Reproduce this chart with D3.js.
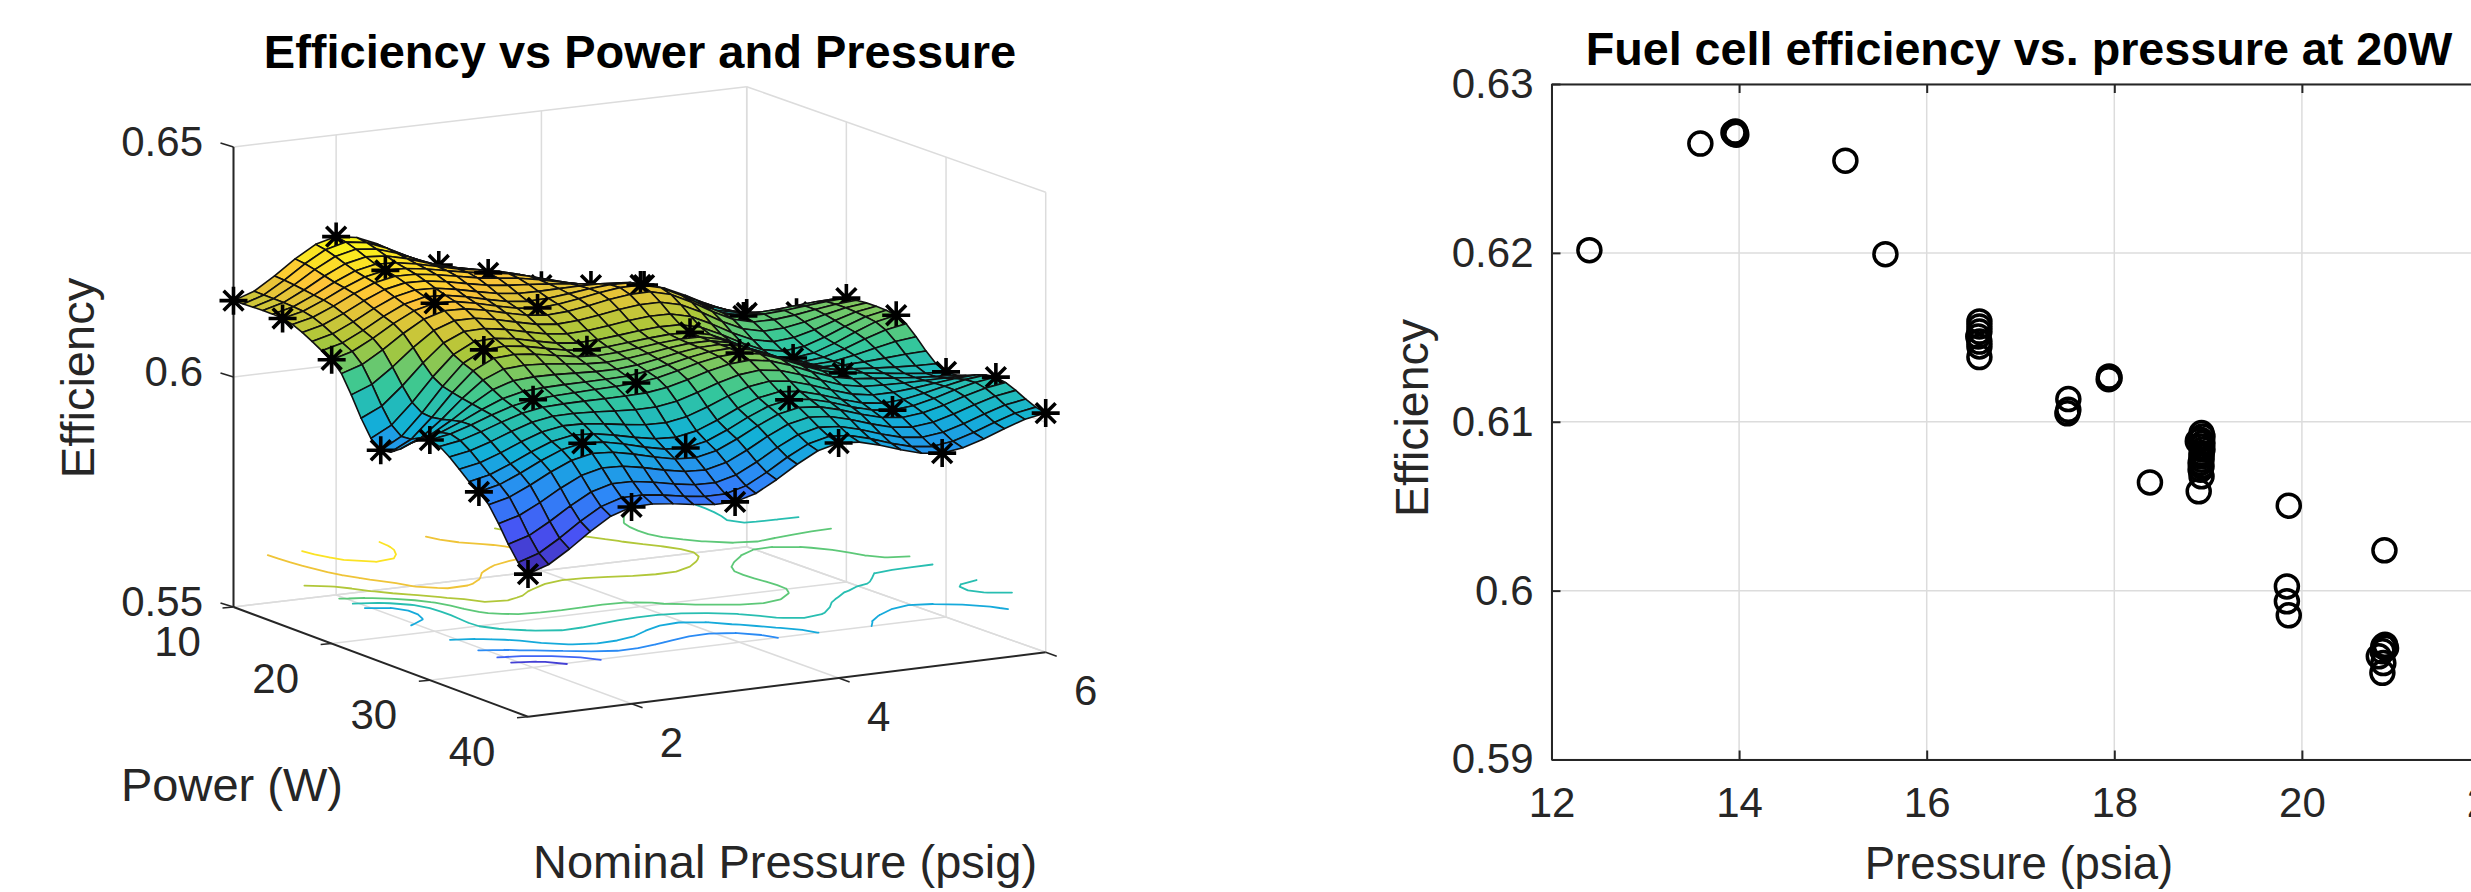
<!DOCTYPE html>
<html>
<head>
<meta charset="utf-8">
<script src="https://cdn.jsdelivr.net/npm/d3@7"></script>
<style>
  html, body { margin: 0; padding: 0; background: #fff; overflow: hidden; }
  text { font-family: "Liberation Sans", Arial, sans-serif; fill: #262626; }
</style>
</head>
<body>
<div id="chart"></div>
<script>
// Left chart: measured grid, rows are power, columns are pressure
const pressureValues = [1, 2, 3, 4, 5, 6];
const powerValues = [10, 15, 20, 25, 30, 35, 40];
const efficiencyGrid = [
    [0.6166, 0.6279, 0.6191, 0.6121, 0.6095, 0.6008],
    [0.6167, 0.6245, 0.6213, 0.6160, 0.6058, 0.6048],
    [0.6117, 0.6213, 0.6176, 0.6199, 0.6105, 0.6117],
    [0.5960, 0.6151, 0.6124, 0.6135, 0.6052, 0.6118],
    [0.6022, 0.6082, 0.6091, 0.6129, 0.6058, 0.6033],
    [0.5949, 0.6027, 0.5989, 0.6066, 0.6016, 0.6060],
    [0.5810, 0.5928, 0.5911, 0.6011, 0.5961, 0.6020]
];
const contourLevels = [0.585, 0.59, 0.595, 0.6, 0.605, 0.61, 0.615, 0.62, 0.625];
const pressureTicks = [2, 4, 6];
const powerTicks = [10, 20, 30, 40];
const efficiencyTicks3d = [0.55, 0.6, 0.65];

// Right chart: scatter at 20 W
const scatterPressure = [
    12.404, 13.587, 13.96, 13.95, 13.97, 13.94, 15.133, 15.56,
    16.562, 16.562, 16.562, 16.55, 16.562, 16.562, 16.562,
    17.51, 17.51, 17.50, 17.945, 17.95, 17.94, 18.38,
    18.93, 18.94, 18.92, 18.89, 18.94, 18.93, 18.94, 18.93, 18.93, 18.93, 18.92, 18.93, 18.92, 18.93, 18.90,
    19.86, 19.84, 19.84, 19.86,
    20.88, 20.886, 20.897, 20.868, 20.86, 20.82, 20.868, 20.858
];
const scatterEfficiency = [
    0.62016, 0.62647, 0.62718, 0.62705, 0.62700, 0.62712, 0.62546, 0.61992,
    0.61594, 0.61564, 0.61534, 0.61505, 0.61475, 0.61446, 0.61383,
    0.61134, 0.61071, 0.6105, 0.61268, 0.61259, 0.61252, 0.60641,
    0.60933, 0.60913, 0.60894, 0.60885, 0.60874, 0.60854, 0.60835, 0.60815, 0.60795, 0.60775, 0.60756, 0.60736, 0.60716, 0.60677, 0.60588,
    0.60503, 0.60025, 0.59937, 0.59854,
    0.60239, 0.5968, 0.5966, 0.5967, 0.59641, 0.59611, 0.59571, 0.59513
];
const scatterXTicks = [12, 14, 16, 18, 20, 22];
const scatterYTicks = [0.59, 0.6, 0.61, 0.62, 0.63];

// MATLAB parula stops
const parulaStops = ["#3E26A8", "#4852F4", "#2D87F7", "#12B1D6", "#37C897", "#ABC739", "#FEC338", "#F9FB15"];

const width = 2471;
const height = 892;
const axisColor = "#262626";

const svg = d3.select("#chart")
    .append("svg")
    .attr("width", width)
    .attr("height", height)
    .attr("viewBox", `0 0 ${width} ${height}`)
    .style("display", "block");

// ---------- left chart, 3D box ----------
const g3 = svg.append("g");

// floor corners on screen
const cornerA = [233.5, 607];    // p=1, w=10
const cornerD = [746.7, 546.7];  // p=6, w=10
const cornerB = [528, 716.7];    // p=1, w=40
const cornerC = [1045.7, 652.3]; // p=6, w=40

const pFrac = d3.scaleLinear().domain([1, 6]).range([0, 1]);
const wFrac = d3.scaleLinear().domain([10, 40]).range([0, 1]);
const zLift = d3.scaleLinear().domain([0.55, 0.65]).range([0, -460]);
const zFloor = 0.55;
const zContour = 0.5604; // contours sit a little above the floor in the original

function project(p, w, z) {
    const a = pFrac(p), b = wFrac(w);
    const x = (1 - a) * (1 - b) * cornerA[0] + a * (1 - b) * cornerD[0] + (1 - a) * b * cornerB[0] + a * b * cornerC[0];
    const y = (1 - a) * (1 - b) * cornerA[1] + a * (1 - b) * cornerD[1] + (1 - a) * b * cornerB[1] + a * b * cornerC[1];
    return [x, y + zLift(z)];
}

function seg(p0, p1, color, sw) {
    g3.append("line")
        .attr("x1", p0[0]).attr("y1", p0[1])
        .attr("x2", p1[0]).attr("y2", p1[1])
        .attr("stroke", color)
        .attr("stroke-width", sw);
}

const gridColor = "#dcdcdc";
const gridWidth = 1.5;

// walls and floor grid
pressureTicks.concat([1]).forEach(p => {
    seg(project(p, 10, zFloor), project(p, 10, 0.65), gridColor, gridWidth);
    if (p !== 1) seg(project(p, 10, zFloor), project(p, 40, zFloor), gridColor, gridWidth);
});
powerTicks.forEach(w => {
    seg(project(6, w, zFloor), project(6, w, 0.65), gridColor, gridWidth);
    if (w !== 40) seg(project(1, w, zFloor), project(6, w, zFloor), gridColor, gridWidth);
});
efficiencyTicks3d.forEach(z => {
    seg(project(1, 10, z), project(6, 10, z), gridColor, gridWidth);
    seg(project(6, 10, z), project(6, 40, z), gridColor, gridWidth);
});

// axes
seg(project(1, 10, zFloor), project(1, 10, 0.65), axisColor, 2);
seg(project(1, 10, zFloor), project(1, 40, zFloor), axisColor, 2);
seg(project(1, 40, zFloor), project(6, 40, zFloor), axisColor, 2);

// ticks and tick labels
efficiencyTicks3d.forEach(z => {
    const t = project(1, 10, z);
    seg(t, [t[0] - 13, t[1] - 4], axisColor, 1.5);
    g3.append("text")
        .attr("x", 203).attr("y", t[1] + 9)
        .attr("text-anchor", "end").attr("font-size", 42)
        .text(z);
});
powerTicks.forEach(w => {
    const t = project(1, w, zFloor);
    seg(t, [t[0] - 11, t[1] + 1], axisColor, 1.5);
    g3.append("text")
        .attr("x", t[0] - 56).attr("y", t[1] + 49)
        .attr("text-anchor", "middle").attr("font-size", 42)
        .text(w);
});
pressureTicks.forEach(p => {
    const t = project(p, 40, zFloor);
    seg(t, [t[0] + 11, t[1] + 4], axisColor, 1.5);
    g3.append("text")
        .attr("x", t[0] + 40).attr("y", t[1] + 53)
        .attr("text-anchor", "middle").attr("font-size", 42)
        .text(p);
});

// The surface in the original is a smoothed mesh over the measured grid: five
// cells per grid step. The values read off the picture are only efficiencyGrid,
// the rest is how the mesh gets drawn. Tangents are kept short so the mesh has
// the same slight kinks at the data points.
const subdiv = 5;
const tangentScale = 0.25;

function hermite(a, b, c, d, t) {
    const m0 = tangentScale * (c - a), m1 = tangentScale * (d - b);
    const t2 = t * t, t3 = t2 * t;
    return (2 * t3 - 3 * t2 + 1) * b + (t3 - 2 * t2 + t) * m0 + (-2 * t3 + 3 * t2) * c + (t3 - t2) * m1;
}

function surfaceAt(fi, fj) {
    const nI = pressureValues.length, nJ = powerValues.length;
    const i = Math.min(Math.floor(fi), nI - 2), j = Math.min(Math.floor(fj), nJ - 2);
    const ti = fi - i, tj = fj - j;
    const cl = (v, n) => Math.max(0, Math.min(n - 1, v));
    const rowVal = r => hermite(
        efficiencyGrid[r][cl(i - 1, nI)], efficiencyGrid[r][cl(i, nI)],
        efficiencyGrid[r][cl(i + 1, nI)], efficiencyGrid[r][cl(i + 2, nI)], ti);
    return hermite(rowVal(cl(j - 1, nJ)), rowVal(cl(j, nJ)), rowVal(cl(j + 1, nJ)), rowVal(cl(j + 2, nJ)), tj);
}

const finePressure = d3.range((pressureValues.length - 1) * subdiv + 1).map(k => 1 + k / subdiv);
const finePower = d3.range((powerValues.length - 1) * subdiv + 1).map(k => 10 + 5 * k / subdiv);
const fineZ = finePower.map((w, j) => finePressure.map((p, i) => surfaceAt(i / subdiv, j / subdiv)));

const zMin = d3.min(fineZ, r => d3.min(r));
const zMax = d3.max(fineZ, r => d3.max(r));
const parula = d3.scaleLinear()
    .domain(parulaStops.map((c, i) => zMin + (zMax - zMin) * i / (parulaStops.length - 1)))
    .range(parulaStops)
    .clamp(true);

// contour lines, marching squares on the fine mesh
function contourPath(level) {
    let d = "";
    const edgePoint = (i0, j0, i1, j1) => {
        const v0 = fineZ[j0][i0], v1 = fineZ[j1][i1];
        const t = (level - v0) / (v1 - v0);
        return project(
            finePressure[i0] + t * (finePressure[i1] - finePressure[i0]),
            finePower[j0] + t * (finePower[j1] - finePower[j0]),
            zContour);
    };
    for (let j = 0; j < finePower.length - 1; j++) {
        for (let i = 0; i < finePressure.length - 1; i++) {
            const corners = [[i, j], [i + 1, j], [i + 1, j + 1], [i, j + 1]];
            const pts = [];
            corners.forEach((c, k) => {
                const n = corners[(k + 1) % 4];
                const above0 = fineZ[c[1]][c[0]] >= level, above1 = fineZ[n[1]][n[0]] >= level;
                if (above0 !== above1) pts.push(edgePoint(c[0], c[1], n[0], n[1]));
            });
            for (let k = 0; k + 1 < pts.length; k += 2) {
                d += `M${pts[k][0]},${pts[k][1]}L${pts[k + 1][0]},${pts[k + 1][1]}`;
            }
        }
    }
    return d;
}

g3.append("g").selectAll("path")
    .data(contourLevels)
    .join("path")
    .attr("d", contourPath)
    .attr("fill", "none")
    .attr("stroke", d => parula(d))
    .attr("stroke-width", 1.8)
    .attr("stroke-linecap", "round");

// surface cells and markers, back to front by floor position
const items = [];
for (let j = 0; j < finePower.length - 1; j++) {
    for (let i = 0; i < finePressure.length - 1; i++) {
        const quad = [[i, j], [i + 1, j], [i + 1, j + 1], [i, j + 1]]
            .map(c => project(finePressure[c[0]], finePower[c[1]], fineZ[c[1]][c[0]]));
        const meanZ = d3.mean([fineZ[j][i], fineZ[j][i + 1], fineZ[j + 1][i + 1], fineZ[j + 1][i]]);
        items.push({
            key: project(finePressure[i] + 0.1, finePower[j] + 0.5, zFloor)[1],
            d: "M" + quad.map(q => q.join(",")).join("L") + "Z",
            fill: parula(meanZ),
            stroke: "#111",
            sw: 1.6
        });
    }
}
const starR = 14;
powerValues.forEach((w, j) => {
    pressureValues.forEach((p, i) => {
        const c = project(p, w, efficiencyGrid[j][i]);
        const spikes = d3.range(4).map(k => {
            const a = k * Math.PI / 4;
            const dx = starR * Math.cos(a), dy = starR * Math.sin(a);
            return `M${c[0] - dx},${c[1] - dy}L${c[0] + dx},${c[1] + dy}`;
        }).join("");
        items.push({
            key: project(p, w, zFloor)[1] + 4,
            d: spikes,
            fill: "none",
            stroke: "#000",
            sw: 3.6
        });
    });
});
items.sort((a, b) => a.key - b.key);

g3.append("g").selectAll("path")
    .data(items)
    .join("path")
    .attr("d", d => d.d)
    .attr("fill", d => d.fill)
    .attr("stroke", d => d.stroke)
    .attr("stroke-width", d => d.sw)
    .attr("stroke-linejoin", "round");

// labels, left chart
g3.append("text")
    .attr("x", 640).attr("y", 68)
    .attr("text-anchor", "middle").attr("font-size", 47).attr("font-weight", "bold")
    .style("fill", "#000")
    .text("Efficiency vs Power and Pressure");
g3.append("text")
    .attr("transform", "translate(94,378) rotate(-90)")
    .attr("text-anchor", "middle").attr("font-size", 47)
    .text("Efficiency");
g3.append("text")
    .attr("x", 232).attr("y", 801)
    .attr("text-anchor", "middle").attr("font-size", 47)
    .text("Power (W)");
g3.append("text")
    .attr("x", 785).attr("y", 878)
    .attr("text-anchor", "middle").attr("font-size", 47)
    .text("Nominal Pressure (psig)");

// ---------- right chart, scatter ----------
const gs = svg.append("g");

const x = d3.scaleLinear().domain([12, 22]).range([1551.5, 2489.5]);
const y = d3.scaleLinear().domain([0.59, 0.63]).range([759.5, 84]);

// grid
gs.append("g").selectAll("line")
    .data(scatterXTicks)
    .join("line")
    .attr("x1", d => x(d)).attr("x2", d => x(d))
    .attr("y1", y(0.59)).attr("y2", y(0.63))
    .attr("stroke", gridColor).attr("stroke-width", gridWidth);
gs.append("g").selectAll("line")
    .data(scatterYTicks)
    .join("line")
    .attr("x1", x(12)).attr("x2", x(22))
    .attr("y1", d => y(d)).attr("y2", d => y(d))
    .attr("stroke", gridColor).attr("stroke-width", gridWidth);

// axes with inward ticks
const tickLen = 9;
const bottomAxis = gs.append("g").attr("transform", `translate(0,${y(0.59)})`)
    .call(d3.axisBottom(x).tickValues(scatterXTicks).tickSizeInner(-tickLen).tickSizeOuter(0).tickPadding(28).tickFormat(d => d));
const topAxis = gs.append("g").attr("transform", `translate(0,${y(0.63)})`)
    .call(d3.axisTop(x).tickValues(scatterXTicks).tickSizeInner(-tickLen).tickSizeOuter(0).tickFormat(""));
const leftAxis = gs.append("g").attr("transform", `translate(${x(12)},0)`)
    .call(d3.axisLeft(y).tickValues(scatterYTicks).tickSizeInner(-tickLen).tickSizeOuter(0).tickPadding(18).tickFormat(d => d));

[bottomAxis, topAxis, leftAxis].forEach(ax => {
    ax.selectAll("path, line").attr("stroke", axisColor).attr("stroke-width", 2);
    ax.selectAll("text").attr("font-size", 42).attr("font-family", null).style("fill", axisColor);
});

// markers
gs.append("g").selectAll("circle")
    .data(scatterPressure)
    .join("circle")
    .attr("cx", d => x(d))
    .attr("cy", (d, i) => y(scatterEfficiency[i]))
    .attr("r", 11.5)
    .attr("fill", "none")
    .attr("stroke", "#000")
    .attr("stroke-width", 3.5);

// labels, right chart
gs.append("text")
    .attr("x", 2019).attr("y", 65)
    .attr("text-anchor", "middle").attr("font-size", 46.7).attr("font-weight", "bold")
    .style("fill", "#000")
    .text("Fuel cell efficiency vs. pressure at 20W");
gs.append("text")
    .attr("x", 2019).attr("y", 879)
    .attr("text-anchor", "middle").attr("font-size", 45.5)
    .text("Pressure (psia)");
gs.append("text")
    .attr("transform", "translate(1428,418) rotate(-90)")
    .attr("text-anchor", "middle").attr("font-size", 46.5)
    .text("Efficiency");
</script>
</body>
</html>
